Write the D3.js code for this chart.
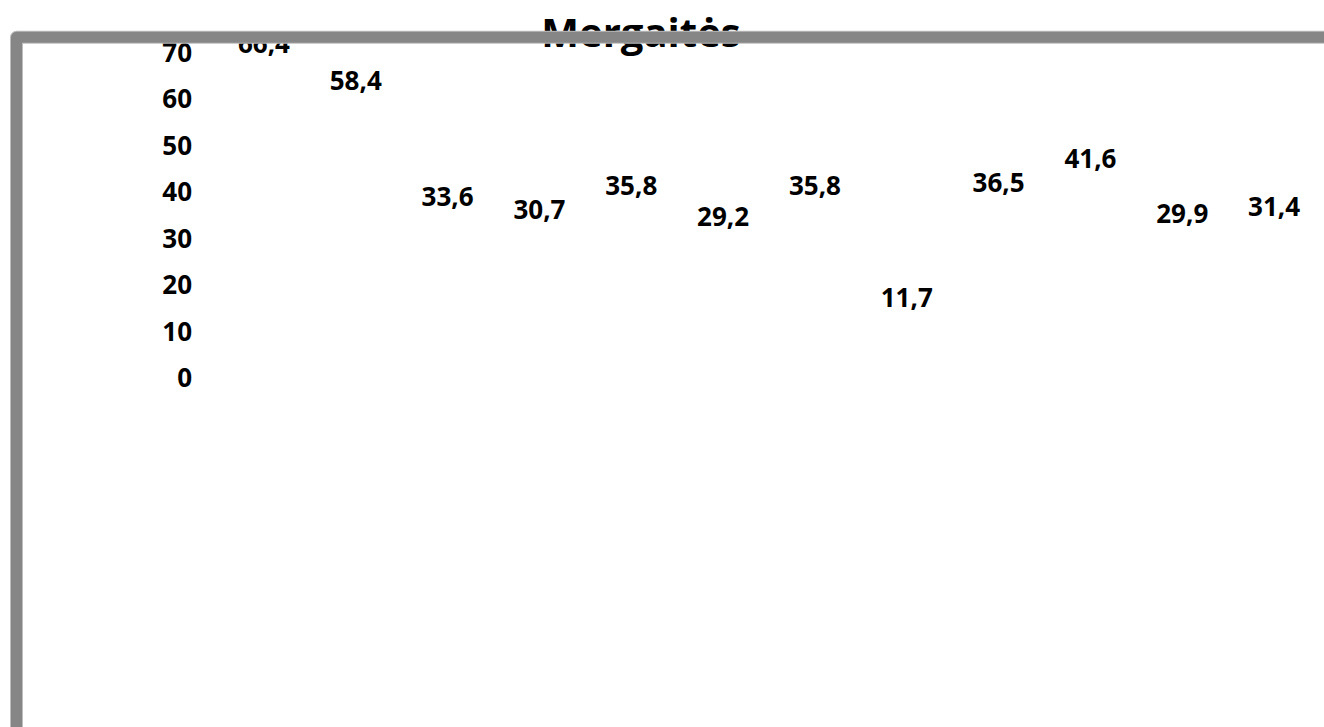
<!DOCTYPE html>
<head>
  <meta charset="utf-8">
  <script src="https://cdn.jsdelivr.net/npm/d3@7/dist/d3.min.js"></script>
  <style>
    body { margin:0; background:#fff; overflow:hidden; }
    svg { display:block; }
    text { font-family:"Open Sans", Arial, sans-serif; font-weight:bold; fill:#000; }
  </style>
</head>

<body>
  <script>
    var width = 1324,
        height = 727;

    // chart data
    var title = "Mergaitės";
    var categories = ["1", "2", "3", "4", "5", "6", "7", "8", "9", "10", "11", "12"];
    var values = [66.4, 58.4, 33.6, 30.7, 35.8, 29.2, 35.8, 11.7, 36.5, 41.6, 29.9, 31.4];
    var yTicks = [0, 10, 20, 30, 40, 50, 60, 70];

    var svg = d3.select("body")
      .append("svg")
      .attr("width", width)
      .attr("height", height);

    // lithuanian style decimals
    var lt = d3.formatLocale({ decimal: ",", thousands: " ", grouping: [3], currency: ["", " €"] });
    var fmt = lt.format(".1f");

    var x = d3.scaleBand()
      .domain(categories)
      .range([218, 1320])
      .padding(0);

    var y = d3.scaleLinear()
      .domain([0, 70])
      .range([377.5, 52]);

    // title (sits under the frame line)
    svg.append("text")
      .attr("x", 641)
      .attr("y", 47)
      .attr("text-anchor", "middle")
      .style("font-size", "40px")
      .text(title);

    // y axis, labels only
    var yAxis = svg.append("g")
      .attr("transform", "translate(200,0)")
      .call(d3.axisLeft(y).tickValues(yTicks).tickSize(0).tickPadding(8).tickFormat(d3.format("d")));
    yAxis.select(".domain").remove();
    yAxis.selectAll("text")
      .attr("dy", "0.36em")
      .style("font-family", "'Open Sans', Arial, sans-serif")
      .style("font-weight", "bold")
      .style("font-size", "26px")
      .attr("fill", "#000");

    // value labels
    svg.selectAll(".lbl")
      .data(values)
      .enter().append("text")
      .attr("class", "lbl")
      .attr("x", function(d, i) { return x(categories[i]) + x.bandwidth() / 2; })
      .attr("y", function(d) { return y(d) - 25; })
      .attr("dy", "0.36em")
      .attr("text-anchor", "middle")
      .style("font-size", "26px")
      .text(function(d) { return fmt(d); });

    // outer frame, drawn on top
    svg.append("rect")
      .attr("x", 16.5).attr("y", 37.3)
      .attr("width", 1500).attr("height", 900)
      .attr("fill", "none")
      .attr("stroke", "#bdbdbd")
      .attr("stroke-width", 13)
      .attr("stroke-linejoin", "round");
    svg.append("rect")
      .attr("x", 16.5).attr("y", 37.3)
      .attr("width", 1500).attr("height", 900)
      .attr("fill", "none")
      .attr("stroke", "#868686")
      .attr("stroke-width", 11)
      .attr("stroke-linejoin", "round");
  </script>
</body>
